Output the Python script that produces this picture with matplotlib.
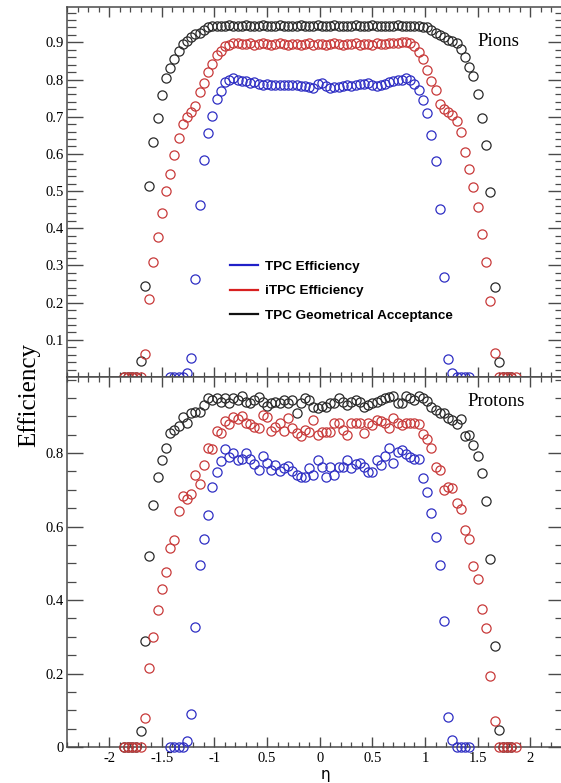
import matplotlib

matplotlib.use("Agg")
import matplotlib.pyplot as plt
import numpy as np
from matplotlib.lines import Line2D
from matplotlib.ticker import FixedLocator, MultipleLocator

nan = float("nan")

ETA = [
    -1.90, -1.86, -1.82, -1.78, -1.74, -1.70, -1.66, -1.62, -1.58, -1.54,
    -1.50, -1.46, -1.42, -1.38, -1.34, -1.30, -1.26, -1.22, -1.18, -1.14,
    -1.10, -1.06, -1.02, -0.98, -0.94, -0.90, -0.86, -0.82, -0.78, -0.74,
    -0.70, -0.66, -0.62, -0.58, -0.54, -0.50, -0.46, -0.42, -0.38, -0.34,
    -0.30, -0.26, -0.22, -0.18, -0.14, -0.10, -0.06, -0.02, 0.02, 0.06,
    0.10, 0.14, 0.18, 0.22, 0.26, 0.30, 0.34, 0.38, 0.42, 0.46,
    0.50, 0.54, 0.58, 0.62, 0.66, 0.70, 0.74, 0.78, 0.82, 0.86,
    0.90, 0.94, 0.98, 1.02, 1.06, 1.10, 1.14, 1.18, 1.22, 1.26,
    1.30, 1.34, 1.38, 1.42, 1.46, 1.50, 1.54, 1.58, 1.62, 1.66,
    1.70, 1.74, 1.78, 1.82, 1.86, 1.90,
]

# pions
PION_TPC = [
    nan, nan, nan, nan, nan, nan, nan, nan, nan, nan,
    nan, nan, 0.0, 0.0, 0.0, 0.0, 0.010, 0.050, 0.263, 0.463,
    0.583, 0.655, 0.703, 0.748, 0.770, 0.792, 0.798, 0.804, 0.798, 0.796,
    0.795, 0.790, 0.792, 0.787, 0.785, 0.788, 0.786, 0.784, 0.786, 0.785,
    0.786, 0.784, 0.785, 0.783, 0.782, 0.780, 0.778, 0.788, 0.790, 0.782,
    0.778, 0.780, 0.781, 0.783, 0.784, 0.783, 0.785, 0.787, 0.788, 0.790,
    0.786, 0.783, 0.786, 0.789, 0.792, 0.795, 0.798, 0.800, 0.805, 0.798,
    0.788, 0.771, 0.745, 0.709, 0.652, 0.581, 0.452, 0.268, 0.048, 0.010,
    0.0, 0.0, 0.0, 0.0, nan, nan, nan, nan, nan, nan,
    nan, nan, nan, nan, nan, nan,
]
PION_ITPC = [
    nan, 0.0, 0.0, 0.0, 0.0, 0.0, 0.063, 0.210, 0.310, 0.377,
    0.440, 0.500, 0.546, 0.596, 0.643, 0.680, 0.700, 0.713, 0.728, 0.767,
    0.790, 0.820, 0.843, 0.866, 0.877, 0.890, 0.893, 0.897, 0.899, 0.896,
    0.895, 0.897, 0.894, 0.896, 0.898, 0.895, 0.894, 0.896, 0.897, 0.895,
    0.894, 0.896, 0.895, 0.893, 0.895, 0.897, 0.894, 0.896, 0.895, 0.893,
    0.896, 0.897, 0.895, 0.894, 0.896, 0.895, 0.897, 0.894, 0.895, 0.896,
    0.894, 0.897, 0.895, 0.896, 0.898, 0.897, 0.899, 0.900, 0.900, 0.897,
    0.890, 0.873, 0.855, 0.825, 0.795, 0.773, 0.735, 0.722, 0.712, 0.705,
    0.688, 0.659, 0.606, 0.559, 0.510, 0.458, 0.384, 0.310, 0.205, 0.065,
    0.0, 0.0, 0.0, 0.0, 0.0, nan,
]
PION_GEO = [
    nan, 0.0, 0.0, 0.0, 0.0, 0.044, 0.245, 0.514, 0.633, 0.697,
    0.759, 0.804, 0.832, 0.855, 0.877, 0.895, 0.904, 0.913, 0.922, 0.926,
    0.932, 0.940, 0.943, 0.944, 0.945, 0.944, 0.946, 0.945, 0.944, 0.945,
    0.946, 0.944, 0.945, 0.944, 0.946, 0.945, 0.944, 0.945, 0.946, 0.944,
    0.945, 0.944, 0.945, 0.946, 0.945, 0.944, 0.945, 0.946, 0.945, 0.944,
    0.945, 0.946, 0.944, 0.945, 0.944, 0.945, 0.946, 0.945, 0.944, 0.945,
    0.946, 0.945, 0.944, 0.945, 0.945, 0.944, 0.946, 0.945, 0.944, 0.945,
    0.944, 0.943, 0.942, 0.940, 0.933, 0.926, 0.921, 0.915, 0.907, 0.904,
    0.897, 0.882, 0.861, 0.834, 0.809, 0.760, 0.697, 0.624, 0.498, 0.243,
    0.040, 0.0, 0.0, 0.0, nan, nan,
]

# protons
PROTON_TPC = [
    nan, nan, nan, nan, nan, nan, nan, nan, nan, nan,
    nan, nan, 0.0, 0.0, 0.0, 0.0, 0.015, 0.090, 0.326, 0.494,
    0.566, 0.631, 0.707, 0.749, 0.779, 0.810, 0.790, 0.800, 0.780, 0.785,
    0.800, 0.784, 0.770, 0.754, 0.793, 0.772, 0.754, 0.768, 0.752, 0.760,
    0.765, 0.752, 0.739, 0.736, 0.734, 0.758, 0.740, 0.781, 0.763, 0.736,
    0.763, 0.740, 0.763, 0.763, 0.781, 0.758, 0.770, 0.773, 0.763, 0.749,
    0.749, 0.781, 0.768, 0.792, 0.813, 0.772, 0.803, 0.807, 0.798, 0.788,
    0.785, 0.783, 0.731, 0.695, 0.636, 0.572, 0.494, 0.342, 0.082, 0.020,
    0.0, 0.0, 0.0, 0.0, nan, nan, nan, nan, nan, nan,
    nan, nan, nan, nan, nan, nan,
]
PROTON_ITPC = [
    nan, 0.0, 0.0, 0.0, 0.0, 0.0, 0.078, 0.214, 0.299, 0.374,
    0.429, 0.477, 0.541, 0.563, 0.643, 0.683, 0.674, 0.688, 0.740, 0.717,
    0.767, 0.813, 0.811, 0.861, 0.855, 0.888, 0.879, 0.897, 0.893, 0.902,
    0.881, 0.878, 0.870, 0.868, 0.904, 0.898, 0.861, 0.872, 0.881, 0.859,
    0.895, 0.868, 0.855, 0.846, 0.863, 0.858, 0.890, 0.850, 0.856, 0.857,
    0.858, 0.881, 0.881, 0.863, 0.850, 0.881, 0.881, 0.881, 0.854, 0.881,
    0.877, 0.890, 0.886, 0.881, 0.868, 0.895, 0.881, 0.877, 0.881, 0.881,
    0.881, 0.880, 0.852, 0.837, 0.813, 0.761, 0.753, 0.699, 0.707, 0.705,
    0.665, 0.647, 0.590, 0.565, 0.492, 0.456, 0.376, 0.323, 0.192, 0.071,
    0.0, 0.0, 0.0, 0.0, 0.0, nan,
]
PROTON_GEO = [
    nan, 0.0, 0.0, 0.0, 0.0, 0.043, 0.288, 0.520, 0.659, 0.736,
    0.781, 0.814, 0.855, 0.864, 0.873, 0.897, 0.883, 0.908, 0.911, 0.911,
    0.931, 0.949, 0.945, 0.949, 0.940, 0.949, 0.935, 0.949, 0.944, 0.955,
    0.940, 0.935, 0.944, 0.952, 0.940, 0.928, 0.935, 0.940, 0.935, 0.944,
    0.935, 0.944, 0.908, 0.935, 0.949, 0.944, 0.926, 0.923, 0.928, 0.926,
    0.935, 0.935, 0.949, 0.940, 0.930, 0.940, 0.944, 0.940, 0.926, 0.930,
    0.935, 0.940, 0.944, 0.949, 0.952, 0.955, 0.935, 0.935, 0.955, 0.949,
    0.944, 0.955, 0.949, 0.942, 0.926, 0.917, 0.910, 0.908, 0.895, 0.890,
    0.879, 0.892, 0.846, 0.849, 0.822, 0.792, 0.746, 0.669, 0.511, 0.275,
    0.046, 0.0, 0.0, 0.0, nan, nan,
]

X_TICKS = [-2, -1.5, -1, -0.5, 0, 0.5, 1, 1.5, 2]
X_TICK_LABELS = ["-2", "-1.5", "-1", "0.5", "0", "0.5", "1", "1.5", "2"]
LEGEND_LABELS = ["TPC Efficiency", "iTPC Efficiency", "TPC Geometrical Acceptance"]

BLUE = "#2f2fc4"
RED = "#c83a3a"
BLACK = "#2a2a2a"
LEG_COLORS = ["#2020c8", "#d82020", "#111111"]
AXIS_COLOR = "#4a4a4a"
SERIF = "Liberation Serif"

W, H = 561, 783


def style_axis(ax, ymax, ymajor, yminor, show_xlabels):
    ax.set_xlim(-2.4, 2.32)
    ax.set_ylim(0, ymax)
    ax.xaxis.set_major_locator(FixedLocator(X_TICKS))
    ax.xaxis.set_minor_locator(MultipleLocator(0.1))
    ax.yaxis.set_major_locator(FixedLocator(ymajor))
    ax.yaxis.set_minor_locator(MultipleLocator(yminor))
    ax.tick_params(axis="both", which="both", direction="in", colors=AXIS_COLOR,
                   top=True, right=True, labelcolor="black")
    ax.tick_params(axis="x", which="major", length=7, width=1.0, pad=3.5)
    ax.tick_params(axis="x", which="minor", length=3.6, width=0.9)
    ax.tick_params(axis="y", which="major", length=11.5, width=1.0, pad=2)
    ax.tick_params(axis="y", which="minor", length=6.3, width=0.9)
    for spine in ax.spines.values():
        spine.set_color(AXIS_COLOR)
        spine.set_linewidth(1.1)
    for lab in ax.get_yticklabels():
        lab.set_fontfamily(SERIF)
        lab.set_fontsize(10.5)
    if show_xlabels:
        ax.set_xticklabels(X_TICK_LABELS, fontfamily=SERIF, fontsize=10.5)
    else:
        ax.set_xticklabels([])


def draw_points(ax, series):
    eta = np.array(ETA)
    for values, color in series:
        ax.plot(eta, np.array(values), linestyle="none", marker="o", markersize=6.6,
                markerfacecolor="none", markeredgecolor=color, markeredgewidth=0.9,
                clip_on=False, zorder=3)


def main() -> None:
    fig = plt.figure(figsize=(W / 100, H / 100), dpi=100)
    left = 67 / W
    width = (564 - 67) / W
    ax_top = fig.add_axes([left, (H - 377) / H, width, 370 / H])
    ax_bot = fig.add_axes([left, (H - 747) / H, width, 370 / H])

    draw_points(ax_top, [(PION_GEO, BLACK), (PION_ITPC, RED), (PION_TPC, BLUE)])
    draw_points(ax_bot, [(PROTON_GEO, BLACK), (PROTON_ITPC, RED), (PROTON_TPC, BLUE)])

    style_axis(ax_top, 0.995, [0.1, 0.2, 0.3, 0.4, 0.5, 0.6, 0.7, 0.8, 0.9], 0.02, False)
    style_axis(ax_bot, 1.007, [0.0, 0.2, 0.4, 0.6, 0.8], 0.05, True)
    ax_bot.set_yticklabels(["0", "0.2", "0.4", "0.6", "0.8"], fontfamily=SERIF, fontsize=10.5)

    fig.text(477 / W, 1 - 41 / H, "Pions", fontfamily=SERIF, fontsize=13.5, va="center", ha="left")
    fig.text(467 / W, 1 - 402 / H, "Protons", fontfamily=SERIF, fontsize=13.5, va="center", ha="left")

    handles = [Line2D([0], [0], color=c, linewidth=1.6) for c in LEG_COLORS]
    fig.legend(handles, LEGEND_LABELS, loc="upper left",
               bbox_to_anchor=(230 / W, 1 - 260.5 / H), frameon=False,
               prop={"family": "Liberation Sans", "weight": "bold", "size": 9.7},
               handlelength=2.07, handletextpad=0.52, labelspacing=0.9,
               borderpad=0, borderaxespad=0)

    fig.text(29 / W, 1 - 395 / H, "Efficiency", fontfamily=SERIF, fontsize=18,
             rotation=90, va="center", ha="center")
    fig.text(325 / W, 0.5 / H, "η", fontfamily="DejaVu Sans", fontsize=11,
             va="bottom", ha="center")

    fig.savefig("out.png", dpi=100)


if __name__ == "__main__":
    main()
